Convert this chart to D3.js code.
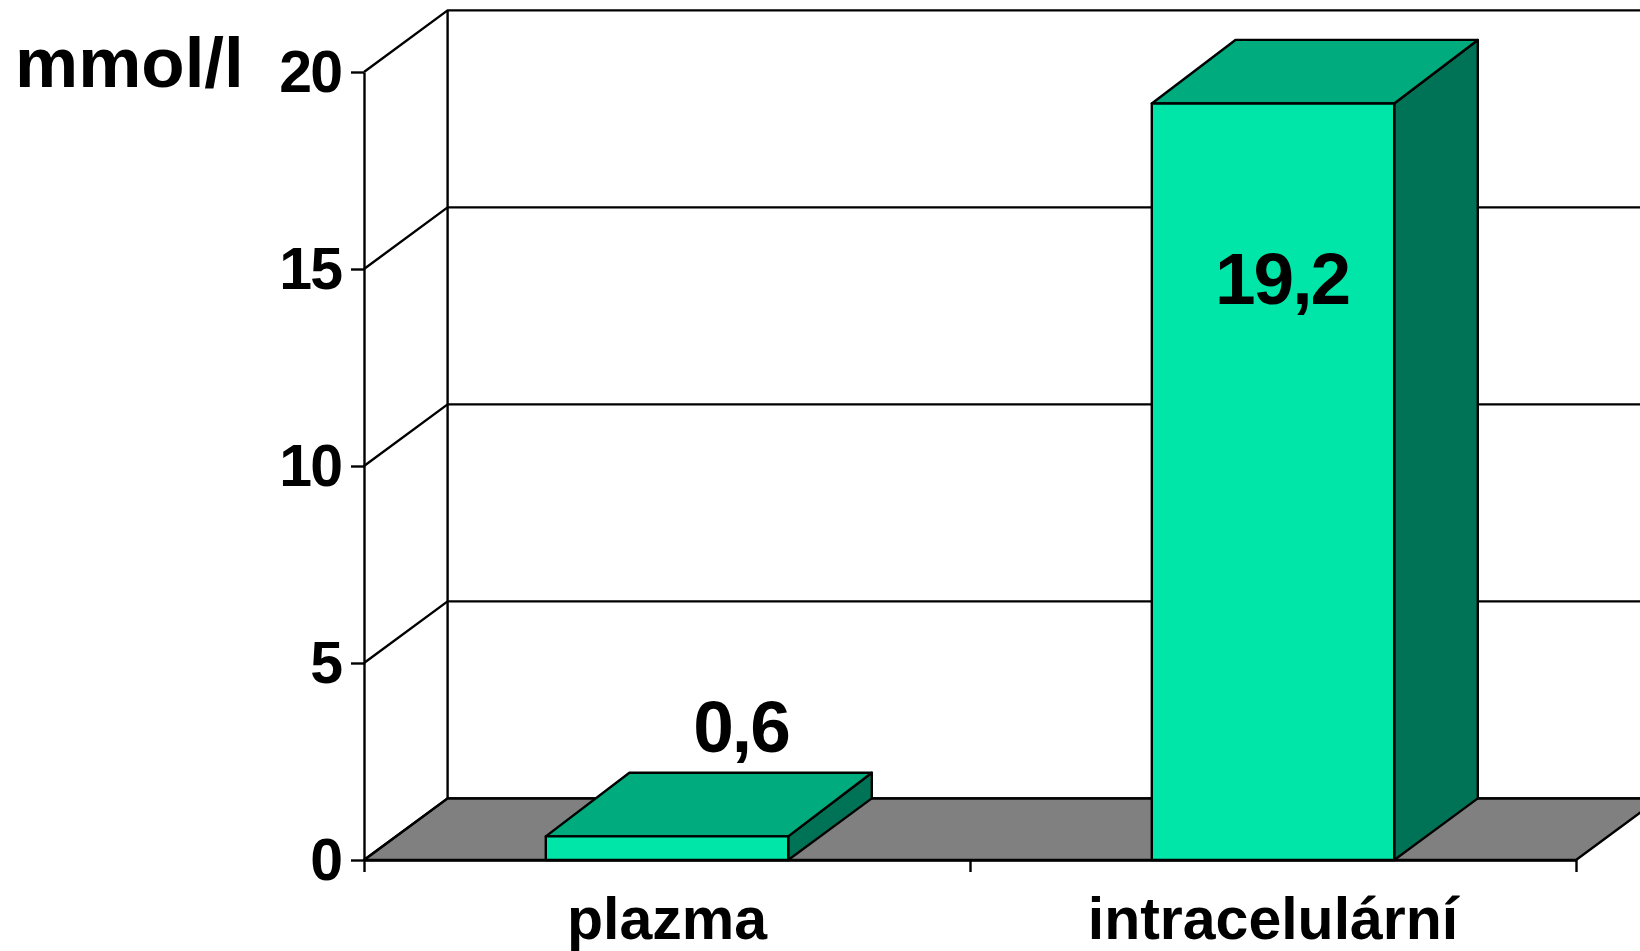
<!DOCTYPE html>
<html><head><meta charset="utf-8">
<script src="https://cdn.jsdelivr.net/npm/d3@7/dist/d3.min.js"></script>
<style>html,body{margin:0;padding:0;background:#fff;overflow:hidden}svg{display:block}
text{font-family:"Liberation Sans",Arial,sans-serif;font-weight:700;fill:#000}</style>
</head><body><svg id="c" width="1640" height="951"></svg>
<script>
const categories = ["plazma", "intracelulární"];
const values = [0.6, 19.2];
const valueLabels = ["0,6", "19,2"];
const yTicks = [0, 5, 10, 15, 20];
const unitLabel = "mmol/l";

const svg = d3.select("#c");
const M = {left:364, right:1576, bottom:860, top:72};
const depth = {x:83.6, y:-61.6, barTop:-63.6};
const colors = {front:"#00E6A8", top:"#00AB7E", side:"#007356", floor:"#808080", line:"#000"};
const sw = 2.4;

const y = d3.scaleLinear().domain([0,20]).range([M.bottom,M.top]);
const x = d3.scaleBand().domain(categories).range([M.left,M.right]).paddingInner(0.6).paddingOuter(0.3);
const xAxisS = d3.scalePoint().domain(d3.range(categories.length+1)).range([M.left,M.right]);
const poly = pts => pts.map(p=>p.join(",")).join(" ");

// floor
const y0 = y(0);
svg.append("polygon").attr("points",poly([[M.left,y0],[M.left+depth.x,y0+depth.y],[M.right+depth.x,y0+depth.y],[M.right,y0]]))
  .attr("fill",colors.floor).attr("stroke",colors.line).attr("stroke-width",sw).attr("stroke-linejoin","round");

// grid: slanted side wall + back wall lines
const grid = svg.append("g").attr("fill","none").attr("stroke",colors.line).attr("stroke-width",sw);
yTicks.forEach(t=>{
  const yy=y(t);
  grid.append("path").attr("d",d3.line()([[M.left,yy],[M.left+depth.x,yy+depth.y],[M.right+depth.x,yy+depth.y]]));
});
grid.append("line").attr("x1",M.left+depth.x).attr("x2",M.left+depth.x).attr("y1",y(20)+depth.y).attr("y2",y0+depth.y);

// axes
const yAxis = d3.axisLeft(y).tickValues(yTicks).tickSize(13).tickSizeOuter(0).tickFormat(d3.format("d")).tickPadding(10);
const gy = svg.append("g").attr("transform",`translate(${M.left},0)`).call(yAxis);
gy.selectAll("path,line").attr("stroke",colors.line).attr("stroke-width",sw);
gy.selectAll("text").attr("font-size",59).attr("dy","19").style("letter-spacing","-2px")
  .style("font-family",'"Liberation Sans",Arial,sans-serif').style("font-weight",700);

const xAxis = d3.axisBottom(xAxisS).tickSize(12).tickSizeOuter(0).tickFormat("");
const gx = svg.append("g").attr("transform",`translate(0,${M.bottom})`).call(xAxis);
gx.selectAll("path,line").attr("stroke",colors.line).attr("stroke-width",sw);

// bars
const bars = svg.append("g").selectAll("g").data(categories).join("g");
bars.each(function(c,i){
  const g=d3.select(this), l=x(c), r=l+x.bandwidth(), t=y(values[i]), b=y0;
  const dx=depth.x, dy=depth.y, dt=depth.barTop;
  const st=s=>s.attr("stroke",colors.line).attr("stroke-width",sw).attr("stroke-linejoin","round");
  st(g.append("polygon").attr("points",poly([[r,b],[r+dx,b+dy],[r+dx,t+dt],[r,t]])).attr("fill",colors.side));
  st(g.append("polygon").attr("points",poly([[l,t],[l+dx,t+dt],[r+dx,t+dt],[r,t]])).attr("fill",colors.top));
  st(g.append("rect").attr("x",l).attr("y",t).attr("width",x.bandwidth()).attr("height",b-t).attr("fill",colors.front));
});

// value labels (hand-placed in the reference)
const labelOffset = [[74,-84],[9,200]];
svg.append("g").selectAll("text").data(valueLabels).join("text")
  .attr("text-anchor","middle").attr("font-size",73).style("letter-spacing","-2px")
  .attr("x",(d,i)=>x(categories[i])+x.bandwidth()/2+labelOffset[i][0])
  .attr("y",(d,i)=>y(values[i])+labelOffset[i][1])
  .text(d=>d);

// category labels
svg.append("g").selectAll("text").data(categories).join("text")
  .attr("text-anchor","middle").attr("font-size",59)
  .attr("x",d=>x(d)+x.bandwidth()/2).attr("y",M.bottom+79).text(d=>d);

svg.append("text").attr("x",15).attr("y",87).attr("font-size",71).text(unitLabel);
</script></body></html>
